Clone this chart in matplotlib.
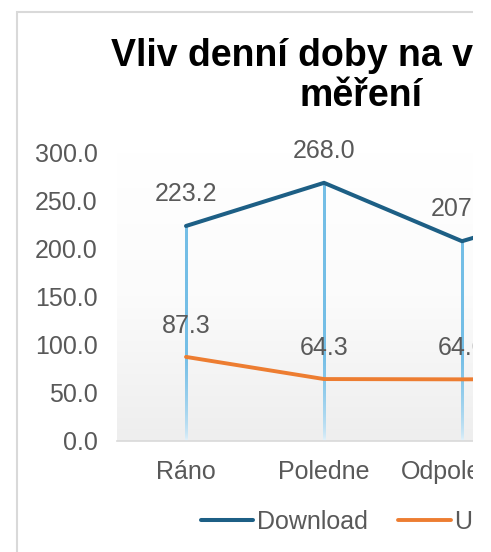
import numpy as np
import matplotlib.pyplot as plt
from matplotlib.colors import LinearSegmentedColormap
from matplotlib.lines import Line2D
from matplotlib.patches import Rectangle

categories = ["Ráno", "Poledne", "Odpoledne", "Večer"]
download = [223.2, 268.0, 207.4, 250.0]
upload = [87.3, 64.3, 64.0, 64.5]
yticks = [0, 50, 100, 150, 200, 250, 300]
title = "Vliv denní doby na výsledky\nměření"

plt.rcParams['font.family'] = ['Liberation Sans', 'DejaVu Sans']
grey = '#595959'
c_down = '#1D5F85'
c_up = '#ED7D31'

W, H = 491, 552
fig = plt.figure(figsize=(W / 100, H / 100), dpi=100)
ax = fig.add_axes([117 / W, 1 - 441 / H, 552 / W, 289 / H])
x = np.arange(len(categories))

# plot area gradient: white at the top, light grey at the bottom
bg = LinearSegmentedColormap.from_list('bg', ['#FFFFFF', '#FBFBFB', '#EEEEEE'])
ax.imshow(np.linspace(0, 1, 256)[:, None], cmap=bg, aspect='auto', origin='upper',
          extent=[-0.5, len(categories) - 0.5, 0, 300], zorder=0)

# drop lines, fading out toward the axis
drop = LinearSegmentedColormap.from_list('drop', ['#EEF7FC', '#74BEE6'])
half_w = 1.4 / 138
for xi, top in zip(x, np.maximum(download, upload)):
    ys = np.linspace(0, top, 300)
    shade = np.clip(ys / 90, 0, 1) ** 0.5
    ax.imshow(shade[:, None], cmap=drop, vmin=0, vmax=1, aspect='auto',
              origin='lower', extent=[xi - half_w, xi + half_w, 0, top],
              interpolation='bilinear', zorder=2)

ax.plot(x, download, color=c_down, lw=2.9, solid_capstyle='round', zorder=3)
ax.plot(x, upload, color=c_up, lw=2.8, solid_capstyle='round', zorder=3)

for xi, v in zip(x, download):
    ax.annotate(f"{v:.1f}", (xi, v), xytext=(0, 32), textcoords='offset pixels',
                ha='center', va='center', fontsize=18, color=grey)
for xi, v in zip(x, upload):
    ax.annotate(f"{v:.1f}", (xi, v), xytext=(0, 31), textcoords='offset pixels',
                ha='center', va='center', fontsize=18, color=grey)

ax.set_xlim(-0.5, len(categories) - 0.5)
ax.set_ylim(0, 300)
ax.set_yticks(yticks)
ax.set_yticklabels([f"{v:.1f}" for v in yticks])
ax.set_xticks(x)
ax.set_xticklabels(categories)
ax.tick_params(axis='y', length=0, pad=14, labelsize=18, labelcolor=grey)
ax.tick_params(axis='x', length=0, pad=14, labelsize=18, labelcolor=grey)
for s in ['top', 'right', 'left']:
    ax.spines[s].set_visible(False)
ax.spines['bottom'].set_color('#D9D9D9')
ax.spines['bottom'].set_linewidth(1.2)
ax.set_facecolor('none')

fig.text(361 / W, 1 - 76 / H, title, ha='center', va='center',
         fontsize=27, fontweight='bold', color='black', linespacing=1.15)

handles = [Line2D([], [], color=c_down, lw=2.9, solid_capstyle='round'),
           Line2D([], [], color=c_up, lw=2.8, solid_capstyle='round')]
fig.legend(handles, ["Download", "Upload"], loc='center', ncol=2,
           bbox_to_anchor=(367 / W, 1 - 522 / H), frameon=False, fontsize=18,
           labelcolor=grey, handlelength=2.1, handletextpad=0.15, columnspacing=1.2)

# chart frame, cut off on the right like the screenshot
fig.patches.append(Rectangle((17 / W, -0.1), 1.5, 1.1 - 12 / H, transform=fig.transFigure,
                             fill=False, edgecolor='#D9D9D9', lw=1.5, zorder=1))
fig.patches.append(Rectangle((473 / W, 0), 1, 1, transform=fig.transFigure,
                             facecolor='white', edgecolor='none', zorder=20))

fig.savefig('out.png', dpi=100)
